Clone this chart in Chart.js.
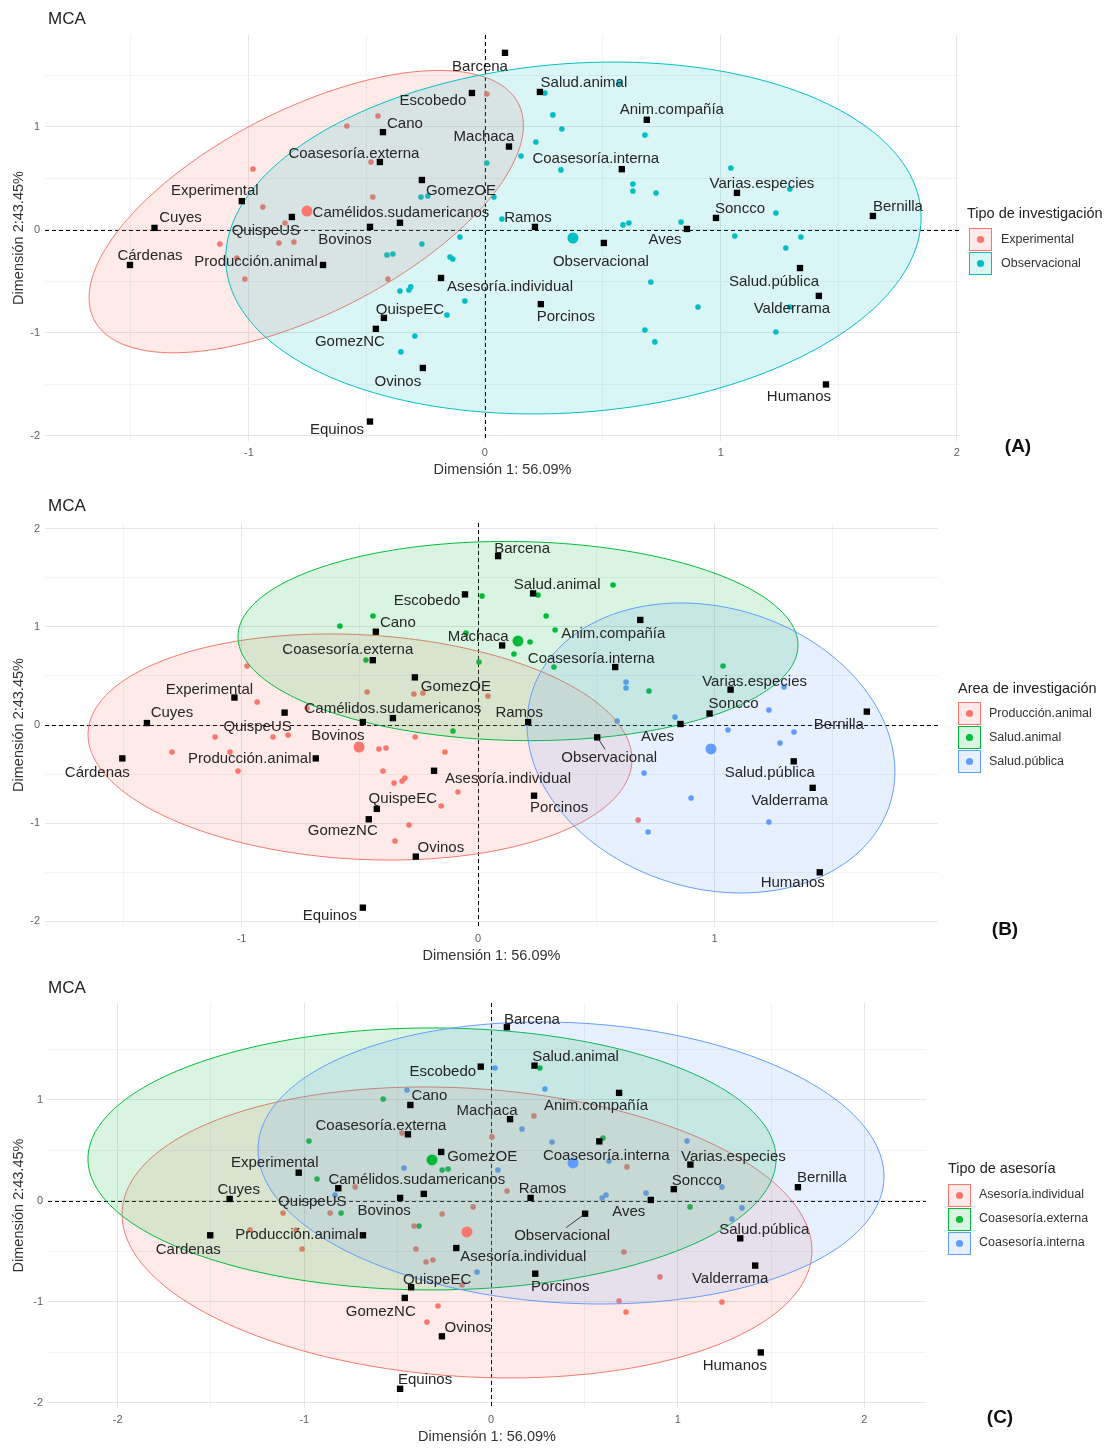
<!DOCTYPE html>
<html lang="es">
<head>
<meta charset="utf-8">
<title>MCA</title>
<script src="https://cdn.jsdelivr.net/npm/chart.js@4.4.1/dist/chart.umd.min.js"></script>
<style>
html,body{margin:0;padding:0;background:#fff;}
body{width:1110px;height:1450px;position:relative;overflow:hidden;}
canvas{position:absolute;left:0;}
</style>
</head>
<body>
<canvas id="cA" width="1110" height="485" style="top:0px"></canvas>
<canvas id="cB" width="1110" height="485" style="top:485px"></canvas>
<canvas id="cC" width="1110" height="480" style="top:970px"></canvas>
<script>
// ---------- shared MCA variable categories ----------
const varNames = ["Barcena","Escobedo","Cano","Machaca","Salud.animal","Anim.compañía","Coasesoría.externa","Coasesoría.interna","GomezOE","Experimental","Cuyes","QuispeUS","Camélidos.sudamericanos","Bovinos","Ramos","Aves","Observacional","Soncco","Varias.especies","Bernilla","Salud.pública","Valderrama","Humanos","Porcinos","Asesoría.individual","Producción.animal","Cárdenas","QuispeEC","GomezNC","Ovinos","Equinos"];
const varX = [0.085,-0.055,-0.432,0.102,0.233,0.686,-0.445,0.58,-0.267,-1.03,-1.40,-0.818,-0.36,-0.487,0.212,0.856,0.504,0.979,1.068,1.644,1.335,1.415,1.445,0.237,-0.186,-0.686,-1.504,-0.428,-0.462,-0.263,-0.487];
const varY = [1.72,1.33,0.95,0.81,1.34,1.07,0.66,0.59,0.485,0.28,0.02,0.126,0.07,0.03,0.03,0.01,-0.126,0.117,0.36,0.136,-0.37,-0.64,-1.50,-0.72,-0.466,-0.34,-0.34,-0.854,-0.96,-1.34,-1.86];

const xTitle = "Dimensión 1: 56.09%";
const yTitle = "Dimensión 2:43.45%";
const tickLabelsA = {x:[-1,0,1,2], y:[-2,-1,0,1]};
const tickLabelsB = {x:[-1,0,1], y:[-2,-1,0,1,2]};
const tickLabelsC = {x:[-2,-1,0,1,2], y:[-2,-1,0,1]};

// ---------- Panel A: Tipo de investigación ----------
const aGroups = ["Experimental","Observacional"];
const aExpX = [0.008,-0.453,-0.585,-0.983,-0.483,-0.475,-0.941,-0.847,-1.123,-0.873,-0.809,-1.051,-1.017,-0.411];
const aExpY = [1.32,1.107,1.01,0.592,0.66,0.32,0.223,0.068,-0.136,-0.126,-0.117,-0.272,-0.476,-0.476];
const aObsX = [-0.271,-0.242,0.008,0.038,-0.106,-0.267,-0.415,-0.39,-0.148,-0.136,-0.36,-0.322,-0.314,-0.085,-0.161,-0.297,-0.356,0.254,0.568,0.288,0.326,0.216,0.678,0.153,0.322,0.627,0.627,0.725,1.042,1.292,0.072,1.233,0.585,0.61,0.831,1.059,1.339,1.275,0.703,0.903,1.292,0.678,0.72,1.233];
const aObsY = [0.32,0.33,0.65,0.32,-0.068,-0.136,-0.243,-0.233,-0.262,-0.282,-0.592,-0.583,-0.553,-0.689,-0.825,-1.029,-1.184,1.33,1.427,1.117,0.981,0.854,0.922,0.718,0.583,0.447,0.379,0.359,0.602,0.398,0.107,0.165,0.049,0.068,0.078,-0.058,-0.068,-0.175,-0.505,-0.748,-0.748,-0.971,-1.087,-0.99];
const aCenX = [-0.754,0.373];
const aCenY = [0.184,-0.078];
// ellipse: [cx, cy, ux, uy, vx, vy] (centre and conjugate semi-axes, data units)
const aEllipses = [[-0.757,0.178,0.899,1.049,-0.196,0.882],[0.375,-0.078,1.472,0.263,-0.0575,1.688]];

// ---------- Panel B: Area de investigación ----------
const bGroups = ["Producción.animal","Salud.animal","Salud.pública"];
const bProdX = [-0.977,-0.934,-0.469,-0.271,-0.233,0.042,-0.723,-1.112,-0.867,-0.803,-1.294,-1.049,-1.015,-0.419,-0.389,-0.266,-0.14,-0.402,-0.355,-0.321,-0.309,-0.085,-0.156,-0.292,-0.351,0.677];
const bProdY = [0.601,0.234,0.336,0.316,0.326,0.295,0.173,-0.122,-0.122,-0.102,-0.275,-0.275,-0.468,-0.244,-0.234,-0.122,-0.275,-0.468,-0.591,-0.57,-0.54,-0.682,-0.825,-1.018,-1.181,-0.967];
const bSanX = [-0.584,-0.444,0.017,0.254,0.571,0.288,0.326,0.22,0.152,0.321,-0.051,0.004,-0.474,-0.106,1.036,0.723];
const bSanY = [1.008,1.11,1.314,1.324,1.426,1.11,0.967,0.845,0.723,0.591,0.937,0.642,0.662,-0.061,0.601,0.346];
const bSpuX = [0.626,0.626,1.294,1.23,0.833,0.588,1.057,1.336,1.277,0.702,0.901,1.23,0.719];
const bSpuY = [0.438,0.377,0.387,0.153,0.081,0.041,-0.051,-0.071,-0.183,-0.489,-0.743,-0.988,-1.09];
const bCenX = [-0.503,0.169,0.985];
const bCenY = [-0.224,0.855,-0.244];
const bEllipses = [[-0.499,-0.224,1.1497,-0.153,0.0262,1.141],[0.169,0.855,1.184,-0.0497,0.0073,1.013],[0.985,-0.234,0.758,-0.560,0.174,1.366]];

// ---------- Panel C: Tipo de asesoría ----------
const cGroups = ["Asesoría.individual","Coasesoría.externa","Coasesoría.interna"];
const cIndX = [-0.477,-0.728,-1.114,-0.862,-0.262,-0.096,-1.291,-1.044,-0.412,-1.012,-0.402,-0.348,-0.311,-0.155,-0.284,-0.343,0.23,0.728,0.086,0.712,0.905,0.686,0.723,1.237,0.005];
const cIndY = [0.673,0.139,-0.119,-0.119,-0.129,-0.059,-0.287,-0.287,-0.248,-0.475,-0.475,-0.604,-0.584,-0.832,-1.04,-1.198,0.842,0.337,0.099,-0.505,-0.752,-0.99,-1.099,-1.0,0.634];
const cExtX = [-0.578,-0.975,-0.262,-0.23,-0.932,-0.803,-0.386,0.262,0.6,1.066];
const cExtY = [1.01,0.594,0.307,0.317,0.218,-0.119,-0.248,1.317,0.624,-0.059];
const cIntX = [-0.45,0.021,-0.466,0.037,-0.836,-0.075,0.289,0.166,0.327,1.05,0.632,0.83,0.595,0.616,1.237,1.344,1.291];
const cIntY = [1.099,1.317,0.327,0.307,0.059,-0.703,1.109,0.713,0.584,0.594,0.396,0.079,0.03,0.059,0.139,-0.069,-0.178];
const cCenX = [-0.129,-0.316,0.439];
const cCenY = [-0.307,0.406,0.376];
const cEllipses = [[-0.1285,-0.312,1.847,-0.217,0.049,1.424],[-0.316,0.416,1.843,0,0,1.297],[0.4285,0.376,1.676,-0.167,0.0405,1.386]];

// ---------- styling / layout ----------
const FONT = '"Liberation Sans", Arial, Helvetica, sans-serif';
const RED = '#F8766D', CYAN = '#00BFC4', GREEN = '#00BA38', BLUE = '#619CFF';

// label offsets (px) from each square, per panel (repel layout)
const offA = [[-25,14],[-39,8],[22,-8],[-25,-10],[44,-9],[25,-10],[-26,-8],[-26,-10],[39,11],[-27,-10],[26,-10],[-26,14],[1,-10],[-25,13],[-7,-9],[-22,11],[-3,19],[24,-9],[25,-9],[25,-9],[-26,14],[-27,13],[-27,12],[25,13],[69,9],[-67,-3],[20,-9],[26,-8],[-26,13],[-25,14],[-33,8]];
const offB = [[24,-7],[-38,6],[22,-9],[-24,-9],[24,-9],[-27,14],[-25,-10],[-24,-8],[41,9],[-25,-8],[25,-10],[-27,14],[0,-9],[-25,14],[-9,-9],[-23,13],[12,20],[24,-10],[24,-8],[-28,13],[-24,12],[-23,13],[-27,11],[25,12],[74,8],[-66,0],[-25,14],[26,-10],[-26,12],[25,-9],[-33,8]];
const offC = [[25,-7],[-38,5],[19,-9],[-23,-8],[41,-9],[-23,13],[-27,-8],[7,14],[41,5],[-24,-10],[9,-9],[-26,14],[-7,-14],[-16,13],[12,-9],[-22,12],[-23,22],[23,-8],[43,-8],[24,-9],[24,-8],[-25,13],[-26,13],[25,13],[67,9],[-66,0],[-22,15],[26,-7],[-24,14],[26,-8],[25,-9]];

const PANELS = {
  cA: {groups:aGroups, colors:[RED,CYAN], indX:[aExpX,aObsX], indY:[aExpY,aObsY], cenX:aCenX, cenY:aCenY, ellipses:aEllipses,
       xr:[-1.864,2.013], yr:[-2.049,1.893], ticks:tickLabelsA,
       pad:{left:8,top:35,right:150,bottom:4}, xH:40, yW:37, xTitlePad:2,
       offsets:offA, rename:{}, segments:[],
       legend:{title:"Tipo de investigación", x:967, titleY:214, keyX:969, keyY:239.5, labelX:1001},
       tag:{text:"(A)", x:1018, y:447}, mcaY:19},
  cB: {groups:bGroups, colors:[RED,GREEN,BLUE], indX:[bProdX,bSanX,bSpuX], indY:[bProdY,bSanY,bSpuY], cenX:bCenX, cenY:bCenY, ellipses:bEllipses,
       xr:[-1.831,1.945], yr:[-2.057,2.057], ticks:tickLabelsB,
       pad:{left:8,top:38,right:172,bottom:4}, xH:39, yW:37, xTitlePad:1,
       offsets:offB, rename:{}, segments:["Observacional"],
       legend:{title:"Area de investigación", x:958, titleY:204, keyX:958, keyY:228.5, labelX:989},
       tag:{text:"(B)", x:1005, y:445}, mcaY:21},
  cC: {groups:cGroups, colors:[RED,GREEN,BLUE], indX:[cIndX,cExtX,cIntX], indY:[cIndY,cExtY,cIntY], cenX:cCenX, cenY:cCenY, ellipses:cEllipses,
       xr:[-2.373,2.330], yr:[-2.050,1.960], ticks:tickLabelsC,
       pad:{left:8,top:33,right:184,bottom:4}, xH:38, yW:40, xTitlePad:0,
       offsets:offC, rename:{"Cárdenas":"Cardenas"}, segments:["Observacional"],
       legend:{title:"Tipo de asesoría", x:948, titleY:199, keyX:948, keyY:225, labelX:979},
       tag:{text:"(C)", x:1000, y:448}, mcaY:18}
};

Chart.defaults.font.family = FONT;

function rgba(hex, a){ const n = parseInt(hex.slice(1),16); return 'rgba('+((n>>16)&255)+','+((n>>8)&255)+','+(n&255)+','+a+')'; }
const isInt = v => Math.abs(v - Math.round(v)) < 1e-9;

function drawEllipses(chart){
  const P = PANELS[chart.canvas.id]; const {ctx, chartArea:a, scales:{x,y}} = chart;
  ctx.save();
  ctx.beginPath(); ctx.rect(a.left,a.top,a.right-a.left,a.bottom-a.top); ctx.clip();
  P.ellipses.forEach((e,gi)=>{
    const [cx,cy,ux,uy,vx,vy] = e;
    ctx.beginPath();
    for(let i=0;i<=240;i++){
      const t = i/240*Math.PI*2;
      const px = x.getPixelForValue(cx + ux*Math.cos(t) + vx*Math.sin(t));
      const py = y.getPixelForValue(cy + uy*Math.cos(t) + vy*Math.sin(t));
      if(i===0) ctx.moveTo(px,py); else ctx.lineTo(px,py);
    }
    ctx.closePath();
    ctx.fillStyle = rgba(P.colors[gi], 0.15); ctx.fill();
    ctx.strokeStyle = P.colors[gi]; ctx.lineWidth = 1; ctx.stroke();
  });
  ctx.restore();
}

function drawLabels(chart){
  const P = PANELS[chart.canvas.id]; const {ctx, scales:{x,y}} = chart;
  ctx.save();
  ctx.font = '15px ' + FONT; ctx.fillStyle = '#262626'; ctx.textAlign = 'center'; ctx.textBaseline = 'middle';
  varNames.forEach((n,i)=>{
    const px = x.getPixelForValue(varX[i]), py = y.getPixelForValue(varY[i]);
    const [dx,dy] = P.offsets[i]; const lx = px+dx, ly = py+dy;
    if(P.segments.includes(n)){
      ctx.strokeStyle = '#262626'; ctx.lineWidth = 0.9; ctx.beginPath();
      ctx.moveTo(px,py); ctx.lineTo(lx + Math.max(-4,Math.min(4,px-lx)), ly-8); ctx.stroke();
    }
    ctx.fillText(P.rename[n] || n, lx, ly);
  });
  ctx.restore();
}

function drawDecor(chart){
  const P = PANELS[chart.canvas.id]; const {ctx} = chart; const L = P.legend;
  ctx.save();
  ctx.textAlign = 'left'; ctx.textBaseline = 'middle';
  ctx.fillStyle = '#222'; ctx.font = '17px ' + FONT;
  ctx.fillText('MCA', 48, P.mcaY);
  ctx.font = '14.5px ' + FONT; ctx.fillStyle = '#222';
  ctx.fillText(L.title, L.x, L.titleY);
  P.groups.forEach((g,i)=>{
    const cy = L.keyY + i*24;
    const bx = L.keyX, by = Math.round(cy - 11.5);
    ctx.fillStyle = '#fff'; ctx.fillRect(bx,by,23,23);
    ctx.fillStyle = rgba(P.colors[i],0.15); ctx.fillRect(bx,by,23,23);
    ctx.strokeStyle = P.colors[i]; ctx.lineWidth = 1; ctx.strokeRect(bx+0.5,by+0.5,22,22);
    ctx.fillStyle = P.colors[i]; ctx.beginPath(); ctx.arc(bx+11.5, by+11.5, 3.6, 0, Math.PI*2); ctx.fill();
    ctx.fillStyle = '#333'; ctx.font = '12.5px ' + FONT;
    ctx.fillText(g, L.labelX, cy);
  });
  ctx.textAlign = 'center'; ctx.font = 'bold 19px ' + FONT; ctx.fillStyle = '#111';
  ctx.fillText(P.tag.text, P.tag.x, P.tag.y);
  ctx.restore();
}

const mcaPlugin = {
  id: 'mca',
  beforeDatasetsDraw(chart){
    const {ctx, chartArea:a, scales:{x,y}} = chart;
    ctx.save();
    ctx.beginPath(); ctx.rect(a.left,a.top,a.right-a.left,a.bottom-a.top); ctx.clip();
    ctx.strokeStyle = '#000'; ctx.lineWidth = 1; ctx.setLineDash([4,3]);
    const x0 = Math.round(x.getPixelForValue(0))+0.5, y0 = Math.round(y.getPixelForValue(0))+0.5;
    ctx.beginPath(); ctx.moveTo(x0,a.top); ctx.lineTo(x0,a.bottom); ctx.moveTo(a.left,y0); ctx.lineTo(a.right,y0); ctx.stroke();
    ctx.restore();
    chart.$ellDone = false;
  },
  beforeDatasetDraw(chart, args){
    const ds = chart.data.datasets[args.index];
    if(ds.isCentroid && !chart.$ellDone){ chart.$ellDone = true; drawEllipses(chart); }
  },
  afterDatasetsDraw(chart){ drawLabels(chart); },
  afterDraw(chart){ drawDecor(chart); }
};

function buildDatasets(P){
  const ds = [];
  P.groups.forEach((g,gi)=>{
    ds.push({label:g, data:P.indX[gi].map((v,j)=>({x:v, y:P.indY[gi][j]})), backgroundColor:P.colors[gi], borderWidth:0, pointRadius:2.8, order:2});
  });
  P.groups.forEach((g,gi)=>{
    ds.push({label:g+' (centroide)', isCentroid:true, data:[{x:P.cenX[gi], y:P.cenY[gi]}], backgroundColor:P.colors[gi], borderWidth:0, pointRadius:5.5, order:1});
  });
  ds.push({label:'Variables', data:varX.map((v,i)=>({x:v, y:varY[i]})), pointStyle:'rect', backgroundColor:'#000', borderWidth:0, pointRadius:4.5, order:0});
  return ds;
}

function axis(P, which){
  const isX = which === 'x';
  const r = isX ? P.xr : P.yr; const labs = P.ticks[which];
  return {
    type:'linear', min:r[0], max:r[1],
    border:{display:false},
    grid:{drawTicks:false, lineWidth:1, color:c => isInt(c.tick.value) ? '#e6e6e6' : '#f3f3f3'},
    ticks:{stepSize:0.5, includeBounds:false, autoSkip:false, maxRotation:0, padding:5,
           color:'#5e5e5e', font:{size:11},
           callback:v => (labs.some(t => Math.abs(t-v)<1e-9) ? String(Math.round(v)) : '')},
    title:{display:true, text:isX?xTitle:yTitle, color:'#333', font:{size:14.5},
           padding:isX?{top:0,bottom:P.xTitlePad}:{top:2,bottom:0}},
    afterFit:s => { if(isX) s.height = P.xH; else s.width = P.yW; }
  };
}

Object.keys(PANELS).forEach(id=>{
  const P = PANELS[id];
  new Chart(document.getElementById(id), {
    type:'scatter',
    data:{datasets:buildDatasets(P)},
    options:{
      responsive:false, animation:false, events:[],
      layout:{padding:P.pad},
      plugins:{legend:{display:false}, tooltip:{enabled:false}, title:{display:false}},
      scales:{x:axis(P,'x'), y:axis(P,'y')}
    },
    plugins:[mcaPlugin]
  });
});
</script>
</body>
</html>
